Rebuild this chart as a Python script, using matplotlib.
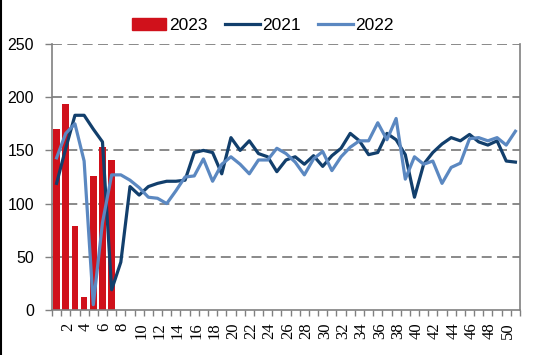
import numpy as np
import matplotlib.pyplot as plt
import matplotlib.transforms as mtransforms
from matplotlib.lines import Line2D

weeks = np.arange(1, 52)
y2023 = [170, 194, 79, 12, 126, 153, 141]
y2021 = [119, 152, 183, 183, 170, 158, 19, 45, 116, 108, 116, 119, 121,
         121, 122, 148, 150, 148, 128, 162, 150, 159, 147, 144, 130, 141,
         144, 137, 145, 135, 145, 152, 166, 159, 146, 148, 166, 160, 146,
         106, 137, 148, 156, 162, 159, 165, 158, 155, 159, 140, 139]
y2022 = [143, 166, 175, 140, 5, 82, 127, 127, 122, 115, 106, 105, 100,
         112, 125, 126, 142, 121, 137, 144, 137, 128, 141, 141, 152, 147,
         139, 127, 142, 149, 131, 144, 153, 159, 159, 176, 160, 180, 123,
         144, 137, 140, 119, 134, 138, 161, 162, 159, 162, 155, 168]
xlabels = [str(w) for w in range(2, 51, 2)]

c23 = '#d0111b'
c21 = '#123f6c'
c22 = '#5b88c1'
gray = '#808080'

fig = plt.figure(figsize=(5.5, 3.55), dpi=100)
ax = fig.add_axes([52/550, 45/355, 468/550, 266/355])

ax.bar(weeks[:len(y2023)], y2023, width=0.73, color=c23, zorder=2, label='2023')
ax.plot(weeks, y2021, color=c21, lw=2.3, zorder=3, label='2021')
ax.plot(weeks, y2022, color=c22, lw=2.3, zorder=4, label='2022')

ax.set_xlim(0.5, 51.5)
ax.set_ylim(0, 250)
ax.set_yticks([0, 50, 100, 150, 200, 250])
for v in [50, 100, 150, 200, 250]:
    ax.axhline(v, color=gray, lw=1.3, dashes=(5.5, 3), zorder=1)

ax.set_xticks(np.arange(0.5, 52, 1), minor=True)
ax.set_xticks(range(2, 51, 2))
ax.set_xticklabels(xlabels, rotation=90, family='Liberation Serif', fontsize=12)
ax.tick_params(axis='x', which='major', length=0, pad=9)
ax.tick_params(axis='x', which='minor', length=4, color=gray, width=1)
ax.tick_params(axis='y', length=5, color=gray, width=1, pad=8, labelsize=11.5)
for t in ax.get_yticklabels():
    t.set_family('Liberation Sans')
shift = mtransforms.ScaledTranslation(2/100, 0, fig.dpi_scale_trans)
for t in ax.get_xticklabels():
    t.set_transform(t.get_transform() + shift)

for s in ['left', 'right', 'bottom']:
    ax.spines[s].set_color(gray)
    ax.spines[s].set_linewidth(1.2)
ax.spines['top'].set_visible(False)

handles = [plt.Rectangle((0, 0), 1, 1, color=c23),
           Line2D([], [], color=c21, lw=2.3),
           Line2D([], [], color=c22, lw=2.3)]
fig.legend(handles, ['2023', '2021', '2022'], loc='center', ncol=3,
           bbox_to_anchor=(0.478, 0.927), frameon=False,
           prop={'family': 'Liberation Sans', 'size': 12.5},
           handlelength=2.0, handletextpad=0.15, columnspacing=1.0,
           handleheight=0.7)

fig.add_artist(Line2D([0.002, 0.002], [0, 1], color='black', lw=1.5,
                      transform=fig.transFigure))

fig.savefig('out.png', dpi=100)
